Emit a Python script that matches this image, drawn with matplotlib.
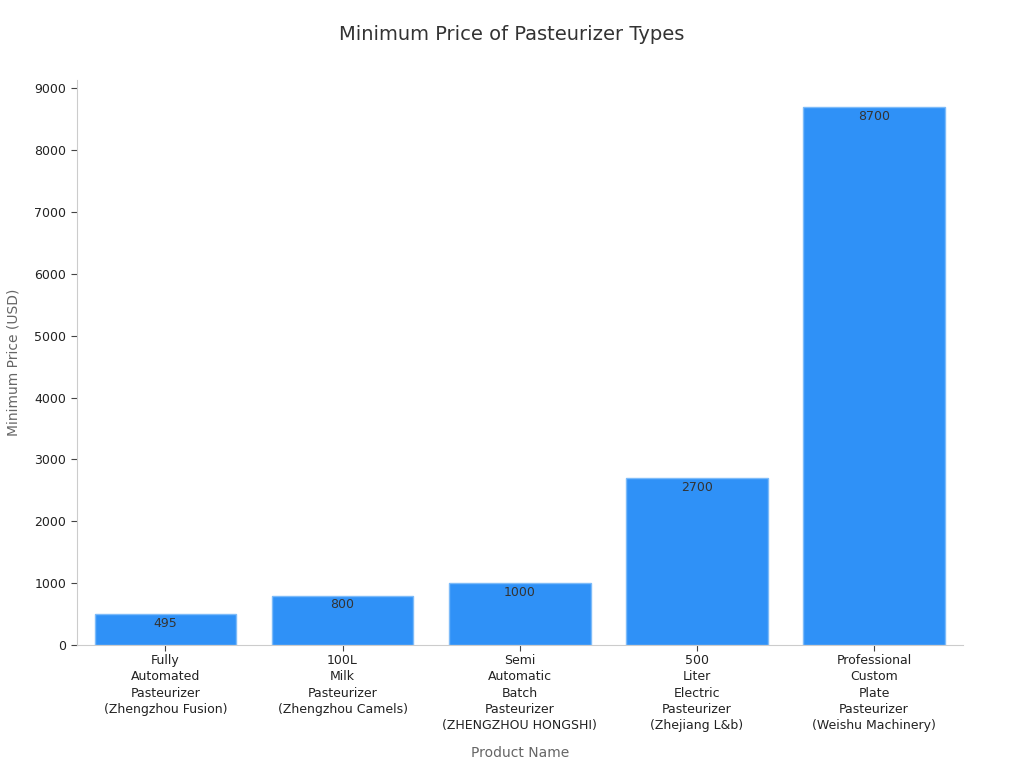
import matplotlib
matplotlib.use("Agg")
import matplotlib.pyplot as plt

products = [
    "Fully\nAutomated\nPasteurizer\n(Zhengzhou Fusion)",
    "100L\nMilk\nPasteurizer\n(Zhengzhou Camels)",
    "Semi\nAutomatic\nBatch\nPasteurizer\n(ZHENGZHOU HONGSHI)",
    "500\nLiter\nElectric\nPasteurizer\n(Zhejiang L&b)",
    "Professional\nCustom\nPlate\nPasteurizer\n(Weishu Machinery)",
]
min_price = [495, 800, 1000, 2700, 8700]
y_ticks = [0, 1000, 2000, 3000, 4000, 5000, 6000, 7000, 8000, 9000]

fig = plt.figure(figsize=(10.24, 7.68), dpi=100)
ax = fig.add_axes([0.075, 0.160, 0.865, 0.736])

x = range(len(products))
bars = ax.bar(x, min_price, width=0.8, color="#2F91F7", edgecolor="#7DBBF9", linewidth=1)

for b, v in zip(bars, min_price):
    ax.annotate(str(v), (b.get_x() + b.get_width() / 2, v),
                xytext=(0, -2), textcoords="offset points",
                ha="center", va="top", fontsize=9, color="#333333")

ax.set_xlim(-0.5, 4.5)
ax.set_ylim(0, 9135)
ax.set_yticks(y_ticks)
ax.set_xticks(list(x))
ax.set_xticklabels(products, fontsize=9, color="#222222", linespacing=1.32)
ax.tick_params(axis="y", labelsize=9, labelcolor="#222222", color="#444444", length=4)
ax.tick_params(axis="x", color="#444444", length=4, pad=2.5)

for s in ["top", "right"]:
    ax.spines[s].set_visible(False)
for s in ["left", "bottom"]:
    ax.spines[s].set_color("#cccccc")

ax.set_xlabel("Product Name", fontsize=10, color="#666666", labelpad=10)
ax.set_ylabel("Minimum Price (USD)", fontsize=10, color="#666666", labelpad=10)
fig.suptitle("Minimum Price of Pasteurizer Types", fontsize=14, color="#333333", y=0.968)

fig.savefig("out.png", dpi=100, facecolor="white")
